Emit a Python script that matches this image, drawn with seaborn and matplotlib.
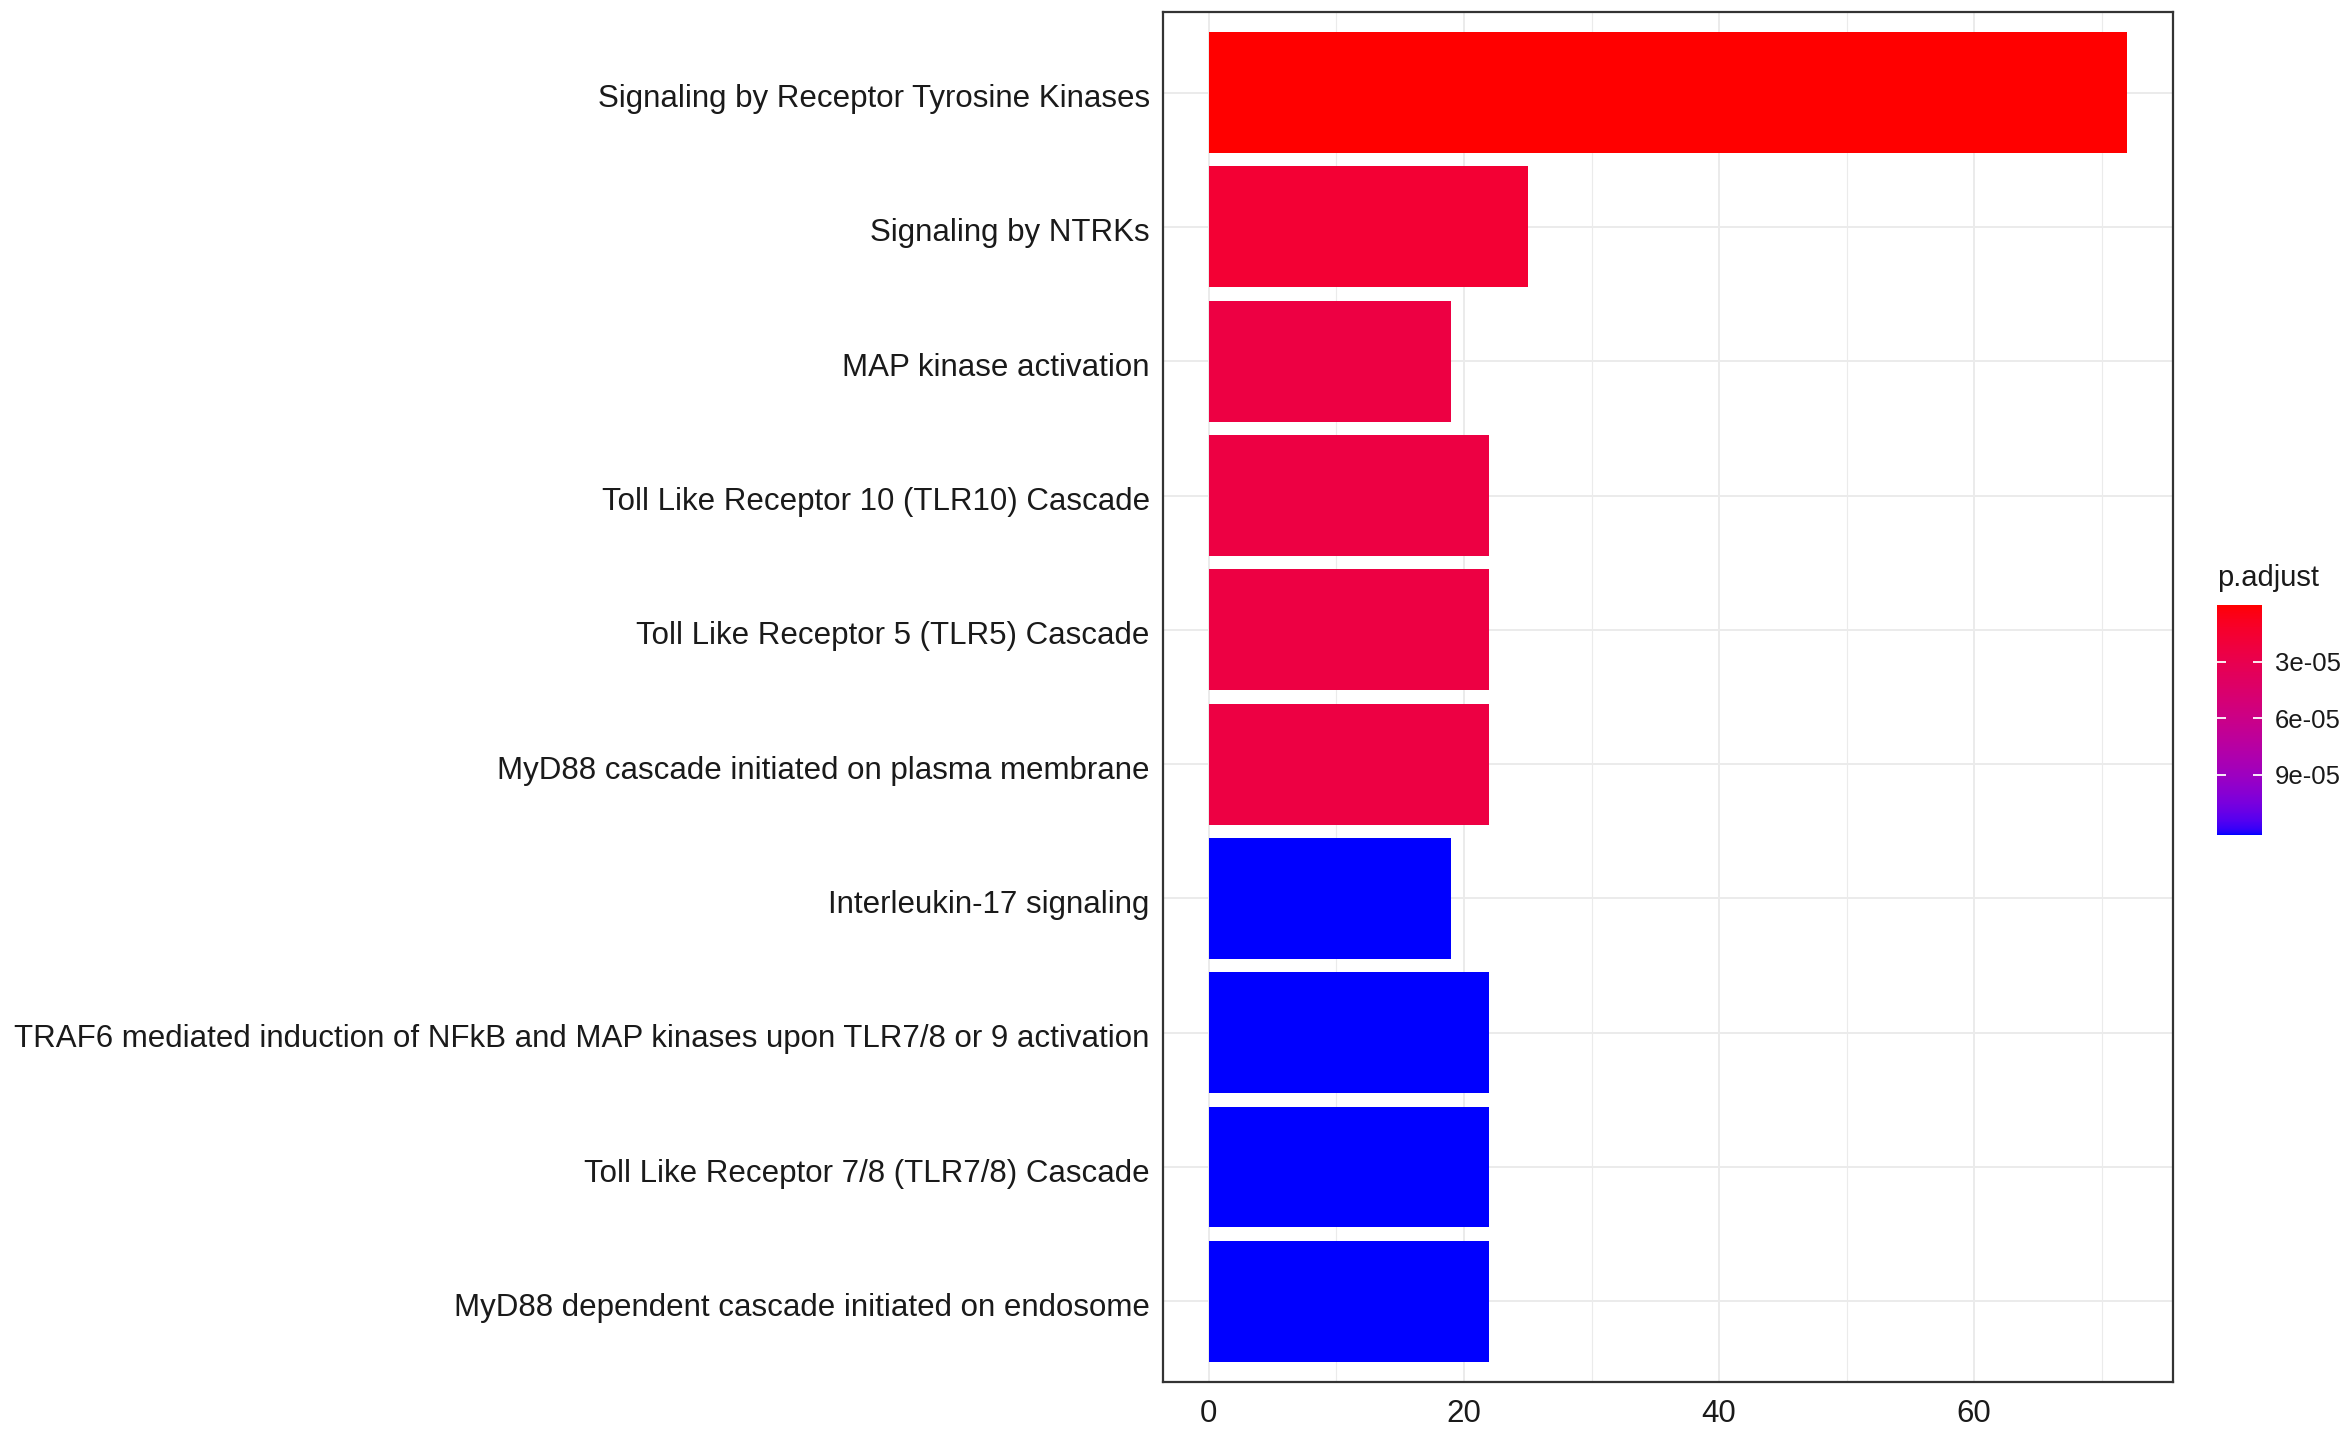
import numpy as np
import pandas as pd
import matplotlib
matplotlib.use("Agg")
import matplotlib.pyplot as plt
import matplotlib.transforms as mtransforms
import seaborn as sns
from matplotlib.colors import ListedColormap, Normalize
from matplotlib.cm import ScalarMappable

# pathway terms, top to bottom
pathways = [
    "Signaling by Receptor Tyrosine Kinases",
    "Signaling by NTRKs",
    "MAP kinase activation",
    "Toll Like Receptor 10 (TLR10) Cascade",
    "Toll Like Receptor 5 (TLR5) Cascade",
    "MyD88 cascade initiated on plasma membrane",
    "Interleukin-17 signaling",
    "TRAF6 mediated induction of NFkB and MAP kinases upon TLR7/8 or 9 activation",
    "Toll Like Receptor 7/8 (TLR7/8) Cascade",
    "MyD88 dependent cascade initiated on endosome",
]
counts = [72, 25, 19, 22, 22, 22, 19, 22, 22, 22]
p_adjust = [4e-10, 1.7e-05, 2.4e-05, 2.4e-05, 2.4e-05, 2.4e-05,
            1.218e-04, 1.218e-04, 1.218e-04, 1.218e-04]
cbar_ticks = [3e-05, 6e-05, 9e-05]
cbar_labels = ["3e-05", "6e-05", "9e-05"]
x_ticks = [0, 20, 40, 60]

df = pd.DataFrame({"Description": pathways, "Count": counts, "p.adjust": p_adjust})


# ggplot-like red -> blue gradient, interpolated in CIELAB
def srgb_to_lab(rgb):
    c = np.asarray(rgb, dtype=float)
    lin = np.where(c <= 0.04045, c / 12.92, ((c + 0.055) / 1.055) ** 2.4)
    M = np.array([[0.4124, 0.3576, 0.1805],
                  [0.2126, 0.7152, 0.0722],
                  [0.0193, 0.1192, 0.9505]])
    xyz = M @ lin / np.array([0.95047, 1.0, 1.08883])
    f = np.where(xyz > 0.008856, np.cbrt(xyz), 7.787 * xyz + 16 / 116)
    return np.array([116 * f[1] - 16, 500 * (f[0] - f[1]), 200 * (f[1] - f[2])])


def lab_to_srgb(lab):
    L, a, b = lab
    fy = (L + 16) / 116
    fx = fy + a / 500
    fz = fy - b / 200
    f = np.array([fx, fy, fz])
    xyz = np.where(f ** 3 > 0.008856, f ** 3, (f - 16 / 116) / 7.787)
    xyz = xyz * np.array([0.95047, 1.0, 1.08883])
    Minv = np.array([[3.2406, -1.5372, -0.4986],
                     [-0.9689, 1.8758, 0.0415],
                     [0.0557, -0.2040, 1.0570]])
    lin = Minv @ xyz
    lin = np.clip(lin, 0, 1)
    c = np.where(lin <= 0.0031308, 12.92 * lin, 1.055 * lin ** (1 / 2.4) - 0.055)
    return np.clip(c, 0, 1)


lab_lo = srgb_to_lab([1, 0, 0])
lab_hi = srgb_to_lab([0, 0, 1])
ramp = [lab_to_srgb(lab_lo + t * (lab_hi - lab_lo)) for t in np.linspace(0, 1, 256)]
cmap = ListedColormap(ramp)
norm = Normalize(vmin=min(p_adjust), vmax=max(p_adjust))
bar_colors = [cmap(norm(p)) for p in p_adjust]

sns.set_style("white")
plt.rcParams["font.family"] = ["Liberation Sans", "DejaVu Sans"]

fig = plt.figure(figsize=(23.5, 14.3), dpi=100)
ax = fig.add_axes([0.4949, 0.0336, 0.4298, 0.958])

sns.barplot(data=df, x="Count", y="Description", hue="Description",
            palette=bar_colors, legend=False, width=0.9, linewidth=0,
            saturation=1, ax=ax)

ax.set_xlim(-3.6, 75.6)
ax.set_ylim(9.6, -0.6)
ax.set_xticks(x_ticks)
ax.set_xticks([10, 30, 50, 70], minor=True)
ax.set_xlabel("")
ax.set_ylabel("")
ax.set_axisbelow(True)
ax.grid(True, which="major", color="#EBEBEB", linewidth=1.4)
ax.grid(True, which="minor", axis="x", color="#EBEBEB", linewidth=0.8)
for s in ax.spines.values():
    s.set_visible(True)
    s.set_color("#333333")
    s.set_linewidth(1.6)
ax.tick_params(axis="both", which="major", length=6, width=1.3,
               color="#333333", labelcolor="#1A1A1A", labelsize=22.5, pad=3.5)
ax.tick_params(axis="x", which="minor", length=0)
ax.tick_params(axis="x", which="major", pad=6)
# nudge y labels down a little, like ggplot's text placement
shift = mtransforms.ScaledTranslation(0, -3 / 100, fig.dpi_scale_trans)
for lbl in ax.get_yticklabels():
    lbl.set_transform(lbl.get_transform() + shift)

# colorbar
cax = fig.add_axes([0.9434, 0.4161, 0.0192, 0.1608])
cb = fig.colorbar(ScalarMappable(norm=norm, cmap=cmap), cax=cax)
cb.outline.set_visible(False)
cax.invert_yaxis()
cb.set_ticks(cbar_ticks)
cb.set_ticklabels(cbar_labels)
cax.tick_params(length=0, labelsize=18.5, labelcolor="#1A1A1A", pad=9)
cax.hlines(cbar_ticks, 0, 0.2, color="white", linewidth=1.3)
cax.hlines(cbar_ticks, 0.8, 1, color="white", linewidth=1.3)
fig.text(0.9434, 0.596, "p.adjust", fontsize=21, color="#1A1A1A",
         ha="left", va="center")

fig.savefig("out.png", dpi=100)
